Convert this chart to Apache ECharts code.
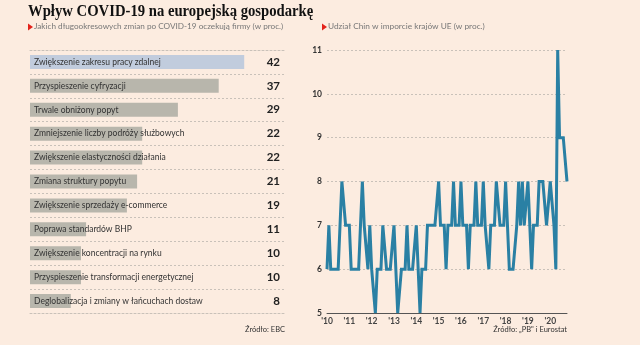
<!DOCTYPE html>
<html>
<head>
<meta charset="utf-8">
<script src="https://cdn.jsdelivr.net/npm/echarts@6/dist/echarts.min.js"></script>
<style>
  html, body { margin: 0; padding: 0; background: #fcece0; }
  #chart { width: 640px; height: 345px; }
</style>
</head>
<body>
<div id="chart"></div>
<script>
// Oczekiwane długookresowe zmiany po COVID-19 (w proc. firm)
const changeCategories = [
  'Zwiększenie zakresu pracy zdalnej',
  'Przyspieszenie cyfryzacji',
  'Trwale obniżony popyt',
  'Zmniejszenie liczby podróży służbowych',
  'Zwiększenie elastyczności działania',
  'Zmiana struktury popytu',
  'Zwiększenie sprzedaży e-commerce',
  'Poprawa standardów BHP',
  'Zwiększenie koncentracji na rynku',
  'Przyspieszenie transformacji energetycznej',
  'Deglobalizacja i zmiany w łańcuchach dostaw'
];
const changeValues = [42, 37, 29, 22, 22, 21, 19, 11, 10, 10, 8];

// Udział Chin w imporcie krajów UE, dane miesięczne od stycznia 2010 (w proc.)
const chinaShare2010 = [6, 7, 6, 6, 6, 6, 6, 7, 8, 8, 7, 7];
const chinaShare2011 = [7, 6, 6, 6, 6, 6, 6, 8, 7, 7, 6, 7];
const chinaShare2012 = [6, 6, 5, 6, 6, 6, 7, 7, 6, 6, 6, 6];
const chinaShare2013 = [7, 6, 5, 5, 6, 6, 6, 7, 6, 6, 6, 6];
const chinaShare2014 = [7, 6, 5, 6, 6, 6, 7, 7, 7, 7, 7, 7];
const chinaShare2015 = [8, 7, 7, 7, 6, 7, 7, 7, 8, 7, 7, 7];
const chinaShare2016 = [8, 7, 7, 7, 6, 7, 7, 7, 8, 7, 7, 7];
const chinaShare2017 = [8, 7, 7, 6, 7, 7, 7, 8, 8, 7, 7, 7];
const chinaShare2018 = [8, 7, 6, 6, 6, 6, 7, 8, 7, 8, 7, 7];
const chinaShare2019 = [8, 7, 6, 7, 7, 7, 8, 8, 8, 8, 7, 7];
const chinaShare2020 = [8, 8, 7, 6, 11, 9, 9, 9, 9, 8];

const yearTickLabels = ["'10", "'11", "'12", "'13", "'14", "'15", "'16", "'17", "'18", "'19", "'20"];
const shareTickLabels = ['5', '6', '7', '8', '9', '10', '11'];

const chinaShare = [].concat(
  chinaShare2010, chinaShare2011, chinaShare2012, chinaShare2013, chinaShare2014,
  chinaShare2015, chinaShare2016, chinaShare2017, chinaShare2018, chinaShare2019,
  chinaShare2020
);
const monthCategories = chinaShare.map((_, i) =>
  (2010 + Math.floor(i / 12)) + '-' + String(i % 12 + 1).padStart(2, '0'));

const BG = '#fcece0';
const GRID_LINE = '#c9c1b9';
const SANS = 'Lato, "Open Sans", sans-serif';
const dashedLine = { color: GRID_LINE, type: [2, 2], width: 1 };

const chart = echarts.init(document.getElementById('chart'), null, { renderer: 'canvas' });

chart.setOption({
  backgroundColor: BG,
  animation: false,
  graphic: [
    {
      type: 'text', left: 28, top: 3, scaleX: 0.89,
      style: { text: 'Wpływ COVID-19 na europejską gospodarkę', fill: '#111',
        font: 'bold 16.5px "Liberation Serif", "DejaVu Serif", serif' }
    },
    {
      type: 'polygon', shape: { points: [[28, 23.5], [33, 27], [28, 30.5]] },
      style: { fill: '#e3221b' }
    },
    {
      type: 'text', left: 34, top: 22.5,
      style: { text: 'Jakich długookresowych zmian po COVID-19 oczekują firmy (w proc.)',
        fill: '#777', font: '8.2px ' + SANS }
    },
    {
      type: 'polygon', shape: { points: [[322, 23.5], [327, 27], [322, 30.5]] },
      style: { fill: '#e3221b' }
    },
    {
      type: 'text', left: 328, top: 22.5,
      style: { text: 'Udział Chin w imporcie krajów UE (w proc.)',
        fill: '#777', font: '8.3px ' + SANS }
    },
    {
      type: 'text', right: 355, top: 326,
      style: { text: 'Źródło: EBC', fill: '#333', font: '7.5px ' + SANS }
    },
    {
      type: 'text', right: 73, top: 326,
      style: { text: 'Źródło: „PB" i Eurostat', fill: '#333', font: '7.5px ' + SANS }
    }
  ],
  grid: [
    { left: 30, top: 50, width: 255, height: 263 },
    { left: 327, top: 50, width: 240, height: 263 }
  ],
  xAxis: [
    {
      type: 'value', gridIndex: 0, min: 0, max: 50, position: 'bottom',
      axisLine: { show: true, lineStyle: dashedLine }, axisTick: { show: false },
      axisLabel: { show: false }, splitLine: { show: false }
    },
    {
      type: 'category', gridIndex: 1, data: monthCategories, boundaryGap: false,
      axisLine: { show: true, lineStyle: { color: '#555', width: 1 } },
      axisTick: { show: false },
      axisLabel: {
        interval: (index) => index % 12 === 0,
        formatter: (value, index) => yearTickLabels[Math.floor(index / 12)],
        color: '#444', fontFamily: SANS, fontSize: 8.5, fontWeight: 'bold', margin: 4
      },
      splitLine: { show: false }
    },
    {
      type: 'value', gridIndex: 0, min: 0, max: 50, position: 'top',
      axisLine: { show: true, lineStyle: dashedLine }, axisTick: { show: false },
      axisLabel: { show: false }, splitLine: { show: false }
    }
  ],
  yAxis: [
    {
      type: 'category', gridIndex: 0, data: changeCategories, inverse: true,
      axisLine: { show: false }, axisTick: { show: false },
      axisLabel: { inside: true, margin: 4, color: '#333', fontFamily: SANS, fontSize: 8.5 },
      splitLine: { show: true, lineStyle: dashedLine },
      z: 10
    },
    {
      type: 'category', gridIndex: 0, data: changeValues.map(String), inverse: true,
      position: 'right',
      axisLine: { show: false }, axisTick: { show: false },
      axisLabel: { inside: true, margin: 5, color: '#222', fontFamily: SANS,
        fontSize: 11.5, fontWeight: 'bold' },
      splitLine: { show: false }
    },
    {
      type: 'value', gridIndex: 1, min: 5, max: 11, interval: 1,
      axisLine: { show: false }, axisTick: { show: false },
      axisLabel: {
        formatter: (v) => shareTickLabels[v - 5],
        color: '#333', fontFamily: SANS, fontSize: 8.5, fontWeight: 'bold', margin: 5
      },
      splitLine: { show: true, lineStyle: dashedLine }
    }
  ],
  series: [
    {
      type: 'bar', xAxisIndex: 0, yAxisIndex: 0, barWidth: 14,
      data: changeValues.map((v, i) => ({
        value: v,
        itemStyle: { color: i === 0 ? '#c1ccdd' : '#b8b6ac' }
      })),
      z: 2
    },
    {
      type: 'line', xAxisIndex: 1, yAxisIndex: 2, data: chinaShare,
      showSymbol: false, symbol: 'none',
      lineStyle: { color: '#2a80a4', width: 3, join: 'miter' },
      z: 3
    }
  ]
});
</script>
</body>
</html>
